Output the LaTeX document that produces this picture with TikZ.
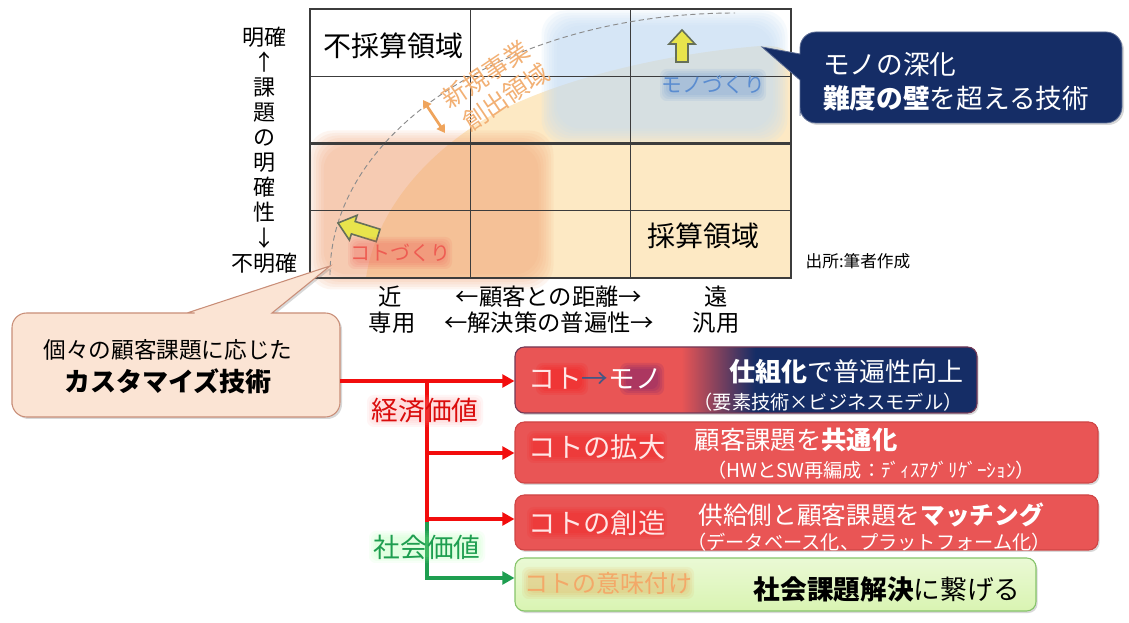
\documentclass[tikz,border=0pt]{standalone}
\usepackage{fontspec}
\setmainfont{Noto Sans CJK JP}
\usetikzlibrary{calc,shadows,arrows.meta}
\definecolor{gridc}{HTML}{3C3C3C}
\definecolor{yel}{HTML}{FDE9C4}
\definecolor{org}{HTML}{F2A274}
\definecolor{blu}{HTML}{C4DCF4}
\definecolor{dashc}{HTML}{8C8C8C}
\definecolor{newbiz}{HTML}{F2B074}
\definecolor{dbl}{HTML}{EFA45C}
\definecolor{yarrowc}{HTML}{E8E44C}
\definecolor{yarrowb}{HTML}{66705A}
\definecolor{monoc}{HTML}{5A8CD0}
\definecolor{kotoc}{HTML}{EE5C52}
\definecolor{navyc}{HTML}{152D66}
\definecolor{custf}{HTML}{FBE4D4}
\definecolor{custd}{HTML}{C98E78}
\definecolor{boxred}{HTML}{E95555}
\definecolor{boxredd}{HTML}{CF4545}
\definecolor{greenf}{HTML}{D9F4B2}
\definecolor{greend}{HTML}{86C46A}
\definecolor{lnred}{HTML}{F20D0D}
\definecolor{lngreen}{HTML}{1E9E50}
\definecolor{kotopink}{HTML}{FFE6E6}
\definecolor{imif}{HTML}{F3A868}
\pgfdeclarehorizontalshading{kmshade}{100bp}{color(0bp)=(boxred); color(43bp)=(boxred); color(51bp)=(navyc); color(100bp)=(navyc)}
\newcommand\softrect[7]{\foreach \k in {0,...,6}{\fill[#5,opacity=#6,rounded corners=#7] (#1-\k*2.5+7.5,#2-\k*2.5+7.5) rectangle (#3+\k*2.5-7.5,#4+\k*2.5-7.5);}}
\newcommand\glowblob[6]{\foreach \k in {1,...,4}{\fill[#5,opacity=#6,rounded corners=5pt] (#1-#3-\k*2,#2-#4-\k*2) rectangle (#1+#3+\k*2,#2+#4+\k*2);}}
\begin{document}
\begin{tikzpicture}[x=0.75pt,y=-0.75pt,
  gridln/.style={draw=gridc,line width=0.8pt},
  txt/.style={inner sep=0pt,text=black},
  rbox/.style={rounded corners=7pt,draw=boxredd,line width=0.8pt,drop shadow={shadow xshift=1.2pt,shadow yshift=-1.5pt,opacity=0.3}},
  redln/.style={draw=lnred,line width=2.5pt},
  redarr/.style={redln,-{Triangle[length=9pt,width=9.5pt]}},
  grnarr/.style={draw=lngreen,line width=2.5pt,-{Triangle[length=9pt,width=9.5pt]}},
  yarr/.style={fill=yarrowc,draw=yarrowb,line width=1.2pt,line join=miter},
  f14/.style={font=\fontsize{14.4}{17}\selectfont},
  f17/.style={font=\fontsize{17.5}{21}\selectfont},
  f20/.style={font=\fontsize{20}{24}\selectfont},
]
\useasboundingbox (0,0) rectangle (1129,623);
\fill[white] (0,0) rectangle (1129,623);
% shaded regions
\fill[yel] (366,278) .. controls (375,215) and (420,160) .. (480,122) .. controls (540,85) and (650,55) .. (760,46) .. controls (780,45) and (791,50) .. (791,62) -- (791,278) -- cycle;
\softrect{316}{138}{546}{282}{org}{0.1}{18pt}
\softrect{549}{18}{780}{136}{blu}{0.14}{18pt}
% grid
\draw[gridln] (310,9) rectangle (791,278);
\draw[gridln] (470.3,9) -- (470.3,278) (630.7,9) -- (630.7,278) (310,76.3) -- (791,76.3) (310,210.8) -- (791,210.8);
\draw[gridln,line width=1.6pt] (310,143.5) -- (791,143.5);
% dashed boundary and double arrow
\draw[dashc,line width=0.7pt,dash pattern=on 4pt off 2.5pt] (330,275) .. controls (330,130) and (511,13) .. (735,13);
\coordinate (da1) at (423,100);
\coordinate (da2) at (445,133);
\draw[dbl,line width=2pt,{Triangle[length=6pt,width=7pt]}-{Triangle[length=6pt,width=7pt]}] (da1) -- (da2);
% cell texts
\node[txt,font=\fontsize{21}{25}\selectfont] (fusai) at (393,46) {不採算領域};
\node[txt,font=\fontsize{21}{25}\selectfont] (saisan) at (703,236) {採算領域};
\node[txt,text=newbiz,rotate=34,align=center,font=\fontsize{18.5}{22.5}\selectfont] (nb) at (494,87) {新規事業\\\hspace*{6pt}創出領域};
% yellow arrows
\draw[yarr] (682,30) -- (695,44) -- (688,44) -- (688,62) -- (676,62) -- (676,44) -- (669,44) -- cycle;
\draw[yarr] (338,223) -- (349.4,240.1) -- (351.4,233.9) -- (376.2,241.6) -- (380.0,229.2) -- (355.2,221.5) -- (357.1,215.3) -- cycle;
\glowblob{713}{85}{45}{8}{monoc}{0.1}
\node[txt,font=\fontsize{15.5}{18}\selectfont,text=monoc] (monoz) at (713,85) {モノづくり};
\glowblob{400}{253}{44}{8}{kotoc}{0.1}
\node[txt,font=\fontsize{15}{18}\selectfont,text=kotoc] (kotoz) at (400,253) {コトづくり};
% axes
\node[txt,align=center,font=\fontsize{16.5}{18.8}\selectfont] (yax) at (264,150) {明確\\↑\\課\\題\\の\\明\\確\\性\\↓\\不明確};
\node[txt,f17] (xnear) at (390,297) {近};
\node[txt,f17] (xdist) at (549,297) {←顧客との距離→};
\node[txt,f17] (xfar) at (716,297) {遠};
\node[txt,f17] (xded) at (392,323) {専用};
\node[txt,f17] (xuniv) at (549,323) {←解決策の普遍性→};
\node[txt,f17] (xgen) at (716,323) {汎用};
\node[txt,font=\fontsize{12.5}{15}\selectfont] (src) at (858,261) {出所:筆者作成};
% navy callout
\draw[fill=navyc,draw=navyc!70!white,line width=0.6pt,drop shadow={shadow xshift=1.5pt,shadow yshift=-1.5pt,opacity=0.3}] (800,80) -- (762,47) -- (800,54) -- (800,50) [rounded corners=12pt] -- (800,32) -- (1122,32) -- (1122,123) -- (800,123) -- (800,100) [sharp corners] -- (800,90) -- cycle;
\node[txt,f20,anchor=west,text=white] (monoT1) at (823,65) {モノの深化};
\node[txt,f20,anchor=west,text=white] (monoT2) at (823,98) {\textbf{難度の壁}を超える技術};
% peach callout
\draw[fill=custf,draw=custd,line width=0.8pt,drop shadow={shadow xshift=1.5pt,shadow yshift=-1.5pt,opacity=0.3}] (12,380) -- (12,360) [rounded corners=11pt] -- (12,313) -- (180,313) [sharp corners] -- (187,313) -- (330,266) -- (272,313) -- (280,313) [rounded corners=11pt] -- (340,313) -- (340,417) -- (12,417) -- (12,390) [sharp corners] -- cycle;
\node[txt,font=\fontsize{17}{20}\selectfont] (custT1) at (168,350) {個々の顧客課題に応じた};
\node[txt,font=\bfseries\fontsize{19.5}{23}\selectfont] (custT2) at (168,381) {カスタマイズ技術};
% boxes
\node[rbox,shade,shading=kmshade,draw=boxredd!50!navyc,minimum width=346.5pt,minimum height=49.5pt] (b1) at (746,380) {};
\node[rbox,fill=boxred,minimum width=437.25pt,minimum height=45.75pt] (b2) at (806.5,452.5) {};
\node[rbox,fill=boxred,minimum width=437.25pt,minimum height=41.25pt] (b3) at (806.5,522.5) {};
\node[rbox,draw=greend,top color=greenf!55!white,bottom color=greenf,minimum width=390.75pt,minimum height=39.75pt] (b4) at (775.5,584.5) {};
% connectors
\coordinate (custE) at (340,381);
\coordinate (j1) at (427,381);
\coordinate (j2) at (427,453);
\coordinate (j3) at (427,519);
\coordinate (jr) at (427,522);
\coordinate (j4) at (427,578);
\draw[redarr] (custE) -- (custE -| b1.west);
\draw[redln] (j1) -- (jr);
\draw[redarr] (j2) -- (j2 -| b2.west);
\draw[redarr] (j3) -- (j3 -| b3.west);
\draw[grnarr] (jr) -- (j4) -- (j4 -| b4.west);
\glowblob{425}{411}{50}{8}{red!45!white}{0.08}
\node[txt,f20,text=lnred!90!black] (keizai) at (425,411) {経済価値};
\glowblob{427}{547}{50}{8}{green!40!white}{0.08}
\node[txt,f20,text=lngreen] (shakai) at (427,547) {社会価値};
% box texts
\glowblob{562}{379}{18}{8}{red}{0.1}
\glowblob{642}{379}{14}{8}{violet!60!navyc}{0.12}
\node[txt,f20] (b1a) at (595,379) {{\color{kotopink}コト}{\color{navyc!80!white}→}{\color{white}モノ}};
\node[txt,font=\fontsize{19.5}{23}\selectfont,text=white] (b1b) at (846,372) {\textbf{仕組化}で普遍性向上};
\node[txt,f14,text=white] (b1c) at (828,402) {（要素技術×ビジネスモデル）};
\glowblob{597}{447}{62}{8}{red}{0.08}
\node[txt,font=\fontsize{20.5}{24}\selectfont,text=kotopink] (b2a) at (597,447) {コトの拡大};
\node[txt,font=\fontsize{19}{23}\selectfont,text=white] (b2b) at (796,440) {顧客課題を\textbf{共通化}};
\node[txt,f14,text=white] (b2c) at (871,470) {（HWとSW再編成：ﾃﾞｨｽｱｸﾞﾘｹﾞｰｼｮﾝ）};
\glowblob{597}{523}{62}{8}{red}{0.08}
\node[txt,font=\fontsize{20.5}{24}\selectfont,text=kotopink] (b3a) at (597,523) {コトの創造};
\node[txt,font=\fontsize{18.5}{22}\selectfont,text=white] (b3b) at (871,515) {供給側と顧客課題を\textbf{マッチング}};
\node[txt,f14,text=white] (b3c) at (869,542) {（データベース化、プラットフォーム化）};
\glowblob{608}{583}{78}{8}{orange!70!brown}{0.07}
\node[txt,font=\fontsize{18}{22}\selectfont,text=imif] (b4a) at (608,583) {コトの意味付け};
\node[txt,f20] (b4b) at (887,589) {\textbf{社会課題解決}に繋げる};
\end{tikzpicture}
\end{document}
